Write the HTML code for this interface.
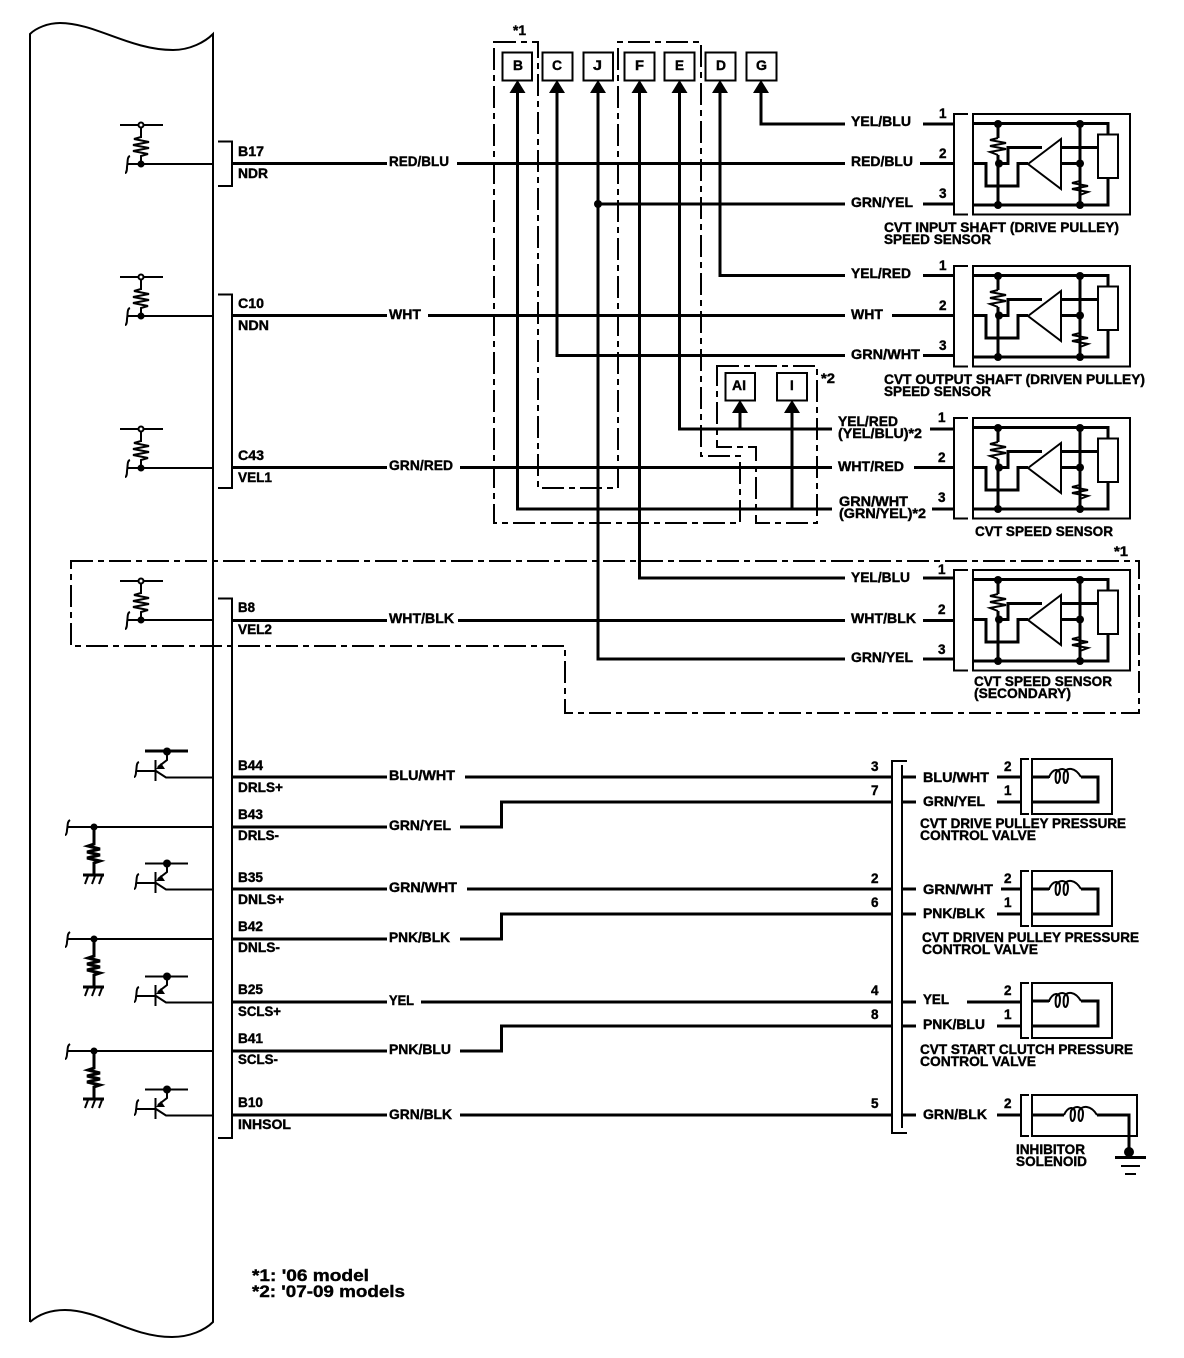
<!DOCTYPE html>
<html><head><meta charset="utf-8"><title>CVT wiring diagram</title>
<style>
html,body{margin:0;padding:0;background:#fff}
svg{display:block}
text{font-family:"Liberation Sans",sans-serif;font-weight:bold;font-size:13.5px;fill:#000;stroke:#000;stroke-width:.4px}
.w{fill:none;stroke:#000;stroke-width:3}
.t{fill:none;stroke:#000;stroke-width:2}
.d{fill:none;stroke:#000;stroke-width:2;stroke-dasharray:22 5 6 5}
.f{fill:#000;stroke:none}
.b{fill:#fff;stroke:#000;stroke-width:2}
</style></head><body>
<svg xmlns="http://www.w3.org/2000/svg" width="1184" height="1358" viewBox="0 0 1184 1358">
<defs>
<g id="res"><path class="t" d="M0 0V13L-7 15L8 18L-8 21L8 25L-8 28L7 31L0 33V48"/></g>
<g id="pu"><path class="t" d="M120 0H163M141 2V13"/><circle cx="141" cy="0" r="2.500" fill="#fff" stroke="#000" stroke-width="2"/><path class="t" d="M141 3V12L134 14L149 17L133 20L149 23L133 26L148 29L141 31V39M128 39H213"/><circle class="f" cx="141" cy="39" r="3.500"/><path class="t" stroke-width="1.500" d="M130 31C127 32 128 36 127 42C127 46 126 48 125 48"/></g>
<g id="pd"><path class="t" d="M68 0H213"/><path class="w" d="M94 0V17L88 19L100 22L87 25L100 28L87 31L100 34L94 36V48"/><circle class="f" cx="94" cy="0" r="3.500"/><path class="t" stroke-width="1.500" d="M70 -7C67 -5 68 -2 67 3C67 6 66 8 65 8"/><path class="w" d="M83 48H104"/><path class="t" stroke-width="1.500" d="M88 49L85 57M95 49L92 57M102 49L99 57"/></g>
<g id="tr"><path class="t" d="M145 -25.500H188"/><circle class="f" cx="167" cy="-25.500" r="4"/><path class="t" d="M167 -24V-17L158 -10M155.500 -17V4M137 -6H155M156 -6L166 0.500H213"/><path class="f" d="M156 -8L161 -14L165 -8Z"/><path class="t" stroke-width="1.500" d="M139 -15C136 -14 137 -10 136 -5C136 -2 135 0 134 0"/></g>
<g id="sen">
<path class="t" d="M968 114H954V214.500H968M973 114H1130V214.500H973Z"/>
<path class="w" d="M973 123.500H1108V205H973M998 124V138M998 155V205M1080 124V205M973 163.500H986V186H1018V163.500H1028M999 163.500H1008V147.500H1042M1061 147.500H1098M1061 163.500H1080"/>
<path class="t" d="M1108 124V134M1108 178V205M998 138L990 140L1006 143L990 146L1006 149L990 152L998 155M1080 178V181L1072 183L1088 186L1072 189L1088 192L1080 195"/>
<path class="t" d="M1028 164L1061 139V189Z" fill="#fff"/>
<rect x="1098" y="134.500" width="20" height="43.500" class="b"/>
<circle class="f" cx="998" cy="124" r="4"/><circle class="f" cx="1080" cy="124" r="4"/><circle class="f" cx="999" cy="163.500" r="4"/><circle class="f" cx="1080" cy="163.500" r="4"/><circle class="f" cx="998" cy="205" r="4"/><circle class="f" cx="1080" cy="205" r="4"/>
</g>
<g id="val">
<path class="t" d="M1029 759H1021V814H1029M1032 759H1112V814H1032Z"/>
<path class="t" d="M1032 777H1050"/>
<path class="w" d="M1032 777H1049M1081 777H1098V802H1032"/>
<path class="t" d="M1049 777C1053 768 1060 768 1060 775C1060 786 1054 786 1056 773C1059 767 1068 768 1068 775C1068 786 1062 786 1064 773C1067 767 1075 767 1081 777"/>
</g>
<g id="arr"><path class="f" d="M0 0L8 13H-8Z"/></g>
</defs>

<!-- ECM body -->
<path class="t" d="M30 1322V34C36 28 48 23 60 23C95 23 130 50 173 50C190 50 205 42 213 34V1322C205 1330 190 1337 172 1337C130 1337 100 1310 65 1310C50 1310 38 1315 30 1322"/>

<!-- pullups, pulldowns, transistors -->
<use href="#pu" transform="translate(0,125)"/>
<use href="#pu" transform="translate(0,277)"/>
<use href="#pu" transform="translate(0,429)"/>
<use href="#pu" transform="translate(0,581)"/>
<use href="#tr" transform="translate(0,777)"/>
<path class="w" d="M145 751H188"/>
<use href="#tr" transform="translate(0,889)"/>
<use href="#tr" transform="translate(0,1002)"/>
<use href="#tr" transform="translate(0,1115)"/>
<use href="#pd" transform="translate(0,827)"/>
<use href="#pd" transform="translate(0,939)"/>
<use href="#pd" transform="translate(0,1051)"/>

<!-- brackets -->
<path class="t" d="M218 141.500H232V186H218M218 294.500H232V488H218M218 598.500H232V1138H218"/>
<path class="t" d="M907 761H892V1133H907M902 765V1128"/>

<!-- dash-dot outlines -->
<path class="d" d="M494 42H538V488H618V42H701V456H740V523H494Z"/>
<path class="d" d="M717 366H817V523H756V447H717Z"/>
<path class="d" d="M71 561H1139V713H565V646H71Z"/>

<!-- sensors -->
<use href="#sen"/>
<use href="#sen" transform="translate(0,152)"/>
<use href="#sen" transform="translate(0,304)"/>
<use href="#sen" transform="translate(0,456)"/>

<!-- valves -->
<use href="#val"/>
<use href="#val" transform="translate(0,112)"/>
<use href="#val" transform="translate(0,224)"/>
<path class="t" d="M1029 1095H1021V1136H1029M1032 1095H1137V1136H1032Z"/>
<path class="w" d="M1032 1115H1064M1097 1115H1129V1153"/>
<path class="t" d="M1064 1115C1068 1106 1075 1106 1075 1113C1075 1124 1069 1124 1071 1111C1074 1105 1083 1106 1083 1113C1083 1124 1077 1124 1079 1111C1082 1105 1091 1105 1097 1115"/>
<circle class="f" cx="1129" cy="1152" r="5"/>
<path class="w" d="M1115 1157.500H1146"/><path class="t" d="M1121 1166H1140M1125 1174H1136"/>

<!-- wires -->
<path class="w" d="M232 163.500H387M457 163.500H845M920 163.500H954
M232 315.500H387M428 315.500H845M892 315.500H954
M232 467.500H387M460 467.500H832M914 467.500H954
M232 620.500H387M458 620.500H845M923 620.500H954
M761 91V124H845M923 124H954
M598 91V659H845M923 659H954
M598 204H845M923 204H954
M720 91V275.500H845M923 275.500H954
M557 91V355.500H845M923 355.500H954
M679.500 91V429H832M930 429H954
M517.500 91V509H832M932 509H954
M639.500 91V578H845M923 578H954
M740 413V429M792 413V509
M232 777H387M465 777H892M902 777H916M997 777H1021
M232 827H387M460 827H501.500V802H892M902 802H916M997 802H1021
M232 889H387M467 889H892M902 889H916M1001 889H1021
M232 939H387M460 939H501.500V914H892M902 914H916M997 914H1021
M232 1002H387M421 1002H892M902 1002H916M967 1002H1021
M232 1051H387M460 1051H501.500V1026H892M902 1026H916M997 1026H1021
M232 1115H387M460 1115H892M902 1115H916M997 1115H1021"/>
<circle class="f" cx="598" cy="204" r="4"/>

<!-- top boxes -->
<rect x="502.500" y="52.500" width="29.500" height="28" class="b"/>
<rect x="542.500" y="52.500" width="30" height="28" class="b"/>
<rect x="583.500" y="52.500" width="29.500" height="28" class="b"/>
<rect x="624.500" y="52.500" width="30" height="28" class="b"/>
<rect x="664.500" y="52.500" width="30" height="28" class="b"/>
<rect x="705.500" y="52.500" width="30" height="28" class="b"/>
<rect x="746.500" y="52.500" width="30" height="28" class="b"/>
<rect x="725.500" y="373" width="29.500" height="27.500" class="b"/>
<rect x="777" y="373" width="30" height="27.500" class="b"/>
<use href="#arr" x="517.500" y="80"/><use href="#arr" x="557" y="80"/><use href="#arr" x="598" y="80"/><use href="#arr" x="639.500" y="80"/><use href="#arr" x="679.500" y="80"/><use href="#arr" x="720" y="80"/><use href="#arr" x="761" y="80"/>
<use href="#arr" x="740" y="400"/><use href="#arr" x="792" y="400"/>

<!-- box labels -->
<text x="513" y="70" textLength="10" lengthAdjust="spacingAndGlyphs">B</text>
<text x="552" y="70" textLength="10" lengthAdjust="spacingAndGlyphs">C</text>
<text x="593" y="70" textLength="9" lengthAdjust="spacingAndGlyphs">J</text>
<text x="635" y="70" textLength="9" lengthAdjust="spacingAndGlyphs">F</text>
<text x="675" y="70" textLength="9" lengthAdjust="spacingAndGlyphs">E</text>
<text x="716" y="70" textLength="10" lengthAdjust="spacingAndGlyphs">D</text>
<text x="756" y="70" textLength="11" lengthAdjust="spacingAndGlyphs">G</text>
<text x="732" y="390" textLength="14" lengthAdjust="spacingAndGlyphs">AI</text>
<text x="790" y="390">I</text>
<text x="513" y="35" textLength="13" lengthAdjust="spacingAndGlyphs">*1</text>
<text x="821" y="383" textLength="14" lengthAdjust="spacingAndGlyphs">*2</text>
<text x="1114" y="556" textLength="14" lengthAdjust="spacingAndGlyphs">*1</text>

<!-- pin labels -->
<text x="238" y="156" textLength="26" lengthAdjust="spacingAndGlyphs">B17</text>
<text x="238" y="178" textLength="30" lengthAdjust="spacingAndGlyphs">NDR</text>
<text x="238" y="308" textLength="26" lengthAdjust="spacingAndGlyphs">C10</text>
<text x="238" y="330" textLength="31" lengthAdjust="spacingAndGlyphs">NDN</text>
<text x="238" y="460" textLength="26" lengthAdjust="spacingAndGlyphs">C43</text>
<text x="238" y="482" textLength="34" lengthAdjust="spacingAndGlyphs">VEL1</text>
<text x="238" y="612" textLength="17" lengthAdjust="spacingAndGlyphs">B8</text>
<text x="238" y="634" textLength="34" lengthAdjust="spacingAndGlyphs">VEL2</text>
<text x="238" y="770" textLength="25" lengthAdjust="spacingAndGlyphs">B44</text>
<text x="238" y="792" textLength="45" lengthAdjust="spacingAndGlyphs">DRLS+</text>
<text x="238" y="819" textLength="25" lengthAdjust="spacingAndGlyphs">B43</text>
<text x="238" y="840" textLength="41" lengthAdjust="spacingAndGlyphs">DRLS-</text>
<text x="238" y="882" textLength="25" lengthAdjust="spacingAndGlyphs">B35</text>
<text x="238" y="904" textLength="46" lengthAdjust="spacingAndGlyphs">DNLS+</text>
<text x="238" y="931" textLength="25" lengthAdjust="spacingAndGlyphs">B42</text>
<text x="238" y="952" textLength="42" lengthAdjust="spacingAndGlyphs">DNLS-</text>
<text x="238" y="994" textLength="25" lengthAdjust="spacingAndGlyphs">B25</text>
<text x="238" y="1016" textLength="43" lengthAdjust="spacingAndGlyphs">SCLS+</text>
<text x="238" y="1043" textLength="25" lengthAdjust="spacingAndGlyphs">B41</text>
<text x="238" y="1064" textLength="40" lengthAdjust="spacingAndGlyphs">SCLS-</text>
<text x="238" y="1107" textLength="25" lengthAdjust="spacingAndGlyphs">B10</text>
<text x="238" y="1129" textLength="53" lengthAdjust="spacingAndGlyphs">INHSOL</text>

<!-- left wire labels -->
<text x="389" y="166" textLength="60" lengthAdjust="spacingAndGlyphs">RED/BLU</text>
<text x="389" y="319" textLength="32" lengthAdjust="spacingAndGlyphs">WHT</text>
<text x="389" y="470" textLength="64" lengthAdjust="spacingAndGlyphs">GRN/RED</text>
<text x="389" y="623" textLength="65" lengthAdjust="spacingAndGlyphs">WHT/BLK</text>
<text x="389" y="780" textLength="66" lengthAdjust="spacingAndGlyphs">BLU/WHT</text>
<text x="389" y="830" textLength="62" lengthAdjust="spacingAndGlyphs">GRN/YEL</text>
<text x="389" y="892" textLength="68" lengthAdjust="spacingAndGlyphs">GRN/WHT</text>
<text x="389" y="942" textLength="61" lengthAdjust="spacingAndGlyphs">PNK/BLK</text>
<text x="389" y="1005" textLength="25" lengthAdjust="spacingAndGlyphs">YEL</text>
<text x="389" y="1054" textLength="62" lengthAdjust="spacingAndGlyphs">PNK/BLU</text>
<text x="389" y="1119" textLength="63" lengthAdjust="spacingAndGlyphs">GRN/BLK</text>

<!-- sensor wire labels -->
<text x="851" y="126" textLength="60" lengthAdjust="spacingAndGlyphs">YEL/BLU</text>
<text x="851" y="166" textLength="62" lengthAdjust="spacingAndGlyphs">RED/BLU</text>
<text x="851" y="207" textLength="62" lengthAdjust="spacingAndGlyphs">GRN/YEL</text>
<text x="851" y="278" textLength="60" lengthAdjust="spacingAndGlyphs">YEL/RED</text>
<text x="851" y="319" textLength="32" lengthAdjust="spacingAndGlyphs">WHT</text>
<text x="851" y="359" textLength="69" lengthAdjust="spacingAndGlyphs">GRN/WHT</text>
<text x="838" y="426" textLength="60" lengthAdjust="spacingAndGlyphs">YEL/RED</text>
<text x="838" y="438" textLength="84" lengthAdjust="spacingAndGlyphs">(YEL/BLU)*2</text>
<text x="838" y="471" textLength="66" lengthAdjust="spacingAndGlyphs">WHT/RED</text>
<text x="839" y="506" textLength="69" lengthAdjust="spacingAndGlyphs">GRN/WHT</text>
<text x="839" y="518" textLength="87" lengthAdjust="spacingAndGlyphs">(GRN/YEL)*2</text>
<text x="851" y="582" textLength="59" lengthAdjust="spacingAndGlyphs">YEL/BLU</text>
<text x="851" y="623" textLength="65" lengthAdjust="spacingAndGlyphs">WHT/BLK</text>
<text x="851" y="662" textLength="62" lengthAdjust="spacingAndGlyphs">GRN/YEL</text>

<!-- sensor pin numbers -->
<text x="939" y="118" textLength="8">1</text><text x="939" y="158" textLength="8">2</text><text x="939" y="198" textLength="8">3</text>
<text x="939" y="270" textLength="8">1</text><text x="939" y="310" textLength="8">2</text><text x="939" y="350" textLength="8">3</text>
<text x="938" y="422" textLength="8">1</text><text x="938" y="462" textLength="8">2</text><text x="938" y="502" textLength="8">3</text>
<text x="938" y="574" textLength="8">1</text><text x="938" y="614" textLength="8">2</text><text x="938" y="654" textLength="8">3</text>

<!-- lower connector numbers -->
<text x="871" y="771" textLength="8">3</text><text x="871" y="795" textLength="8">7</text>
<text x="871" y="883" textLength="8">2</text><text x="871" y="907" textLength="8">6</text>
<text x="871" y="995" textLength="8">4</text><text x="871" y="1019" textLength="8">8</text>
<text x="871" y="1108" textLength="8">5</text>
<text x="1004" y="771" textLength="8">2</text><text x="1004" y="795" textLength="8">1</text>
<text x="1004" y="883" textLength="8">2</text><text x="1004" y="907" textLength="8">1</text>
<text x="1004" y="995" textLength="8">2</text><text x="1004" y="1019" textLength="8">1</text>
<text x="1004" y="1108" textLength="8">2</text>

<!-- valve wire labels -->
<text x="923" y="782" textLength="66" lengthAdjust="spacingAndGlyphs">BLU/WHT</text>
<text x="923" y="806" textLength="62" lengthAdjust="spacingAndGlyphs">GRN/YEL</text>
<text x="923" y="894" textLength="70" lengthAdjust="spacingAndGlyphs">GRN/WHT</text>
<text x="923" y="918" textLength="62" lengthAdjust="spacingAndGlyphs">PNK/BLK</text>
<text x="923" y="1004" textLength="26" lengthAdjust="spacingAndGlyphs">YEL</text>
<text x="923" y="1029" textLength="62" lengthAdjust="spacingAndGlyphs">PNK/BLU</text>
<text x="923" y="1119" textLength="64" lengthAdjust="spacingAndGlyphs">GRN/BLK</text>

<!-- component captions -->
<text x="884" y="232" textLength="235" lengthAdjust="spacingAndGlyphs">CVT INPUT SHAFT (DRIVE PULLEY)</text>
<text x="884" y="244" textLength="107" lengthAdjust="spacingAndGlyphs">SPEED SENSOR</text>
<text x="884" y="384" textLength="261" lengthAdjust="spacingAndGlyphs">CVT OUTPUT SHAFT (DRIVEN PULLEY)</text>
<text x="884" y="396" textLength="107" lengthAdjust="spacingAndGlyphs">SPEED SENSOR</text>
<text x="975" y="536" textLength="138" lengthAdjust="spacingAndGlyphs">CVT SPEED SENSOR</text>
<text x="974" y="686" textLength="138" lengthAdjust="spacingAndGlyphs">CVT SPEED SENSOR</text>
<text x="974" y="698" textLength="97" lengthAdjust="spacingAndGlyphs">(SECONDARY)</text>
<text x="920" y="828" textLength="206" lengthAdjust="spacingAndGlyphs">CVT DRIVE PULLEY PRESSURE</text>
<text x="920" y="840" textLength="116" lengthAdjust="spacingAndGlyphs">CONTROL VALVE</text>
<text x="922" y="942" textLength="217" lengthAdjust="spacingAndGlyphs">CVT DRIVEN PULLEY PRESSURE</text>
<text x="922" y="954" textLength="116" lengthAdjust="spacingAndGlyphs">CONTROL VALVE</text>
<text x="920" y="1054" textLength="213" lengthAdjust="spacingAndGlyphs">CVT START CLUTCH PRESSURE</text>
<text x="920" y="1066" textLength="116" lengthAdjust="spacingAndGlyphs">CONTROL VALVE</text>
<text x="1016" y="1154" textLength="69" lengthAdjust="spacingAndGlyphs">INHIBITOR</text>
<text x="1016" y="1166" textLength="71" lengthAdjust="spacingAndGlyphs">SOLENOID</text>

<!-- footnotes -->
<text x="252" y="1281" textLength="117" lengthAdjust="spacingAndGlyphs" style="font-size:17px">*1: '06 model</text>
<text x="252" y="1297" textLength="153" lengthAdjust="spacingAndGlyphs" style="font-size:17px">*2: '07-09 models</text>
</svg>
</body></html>
